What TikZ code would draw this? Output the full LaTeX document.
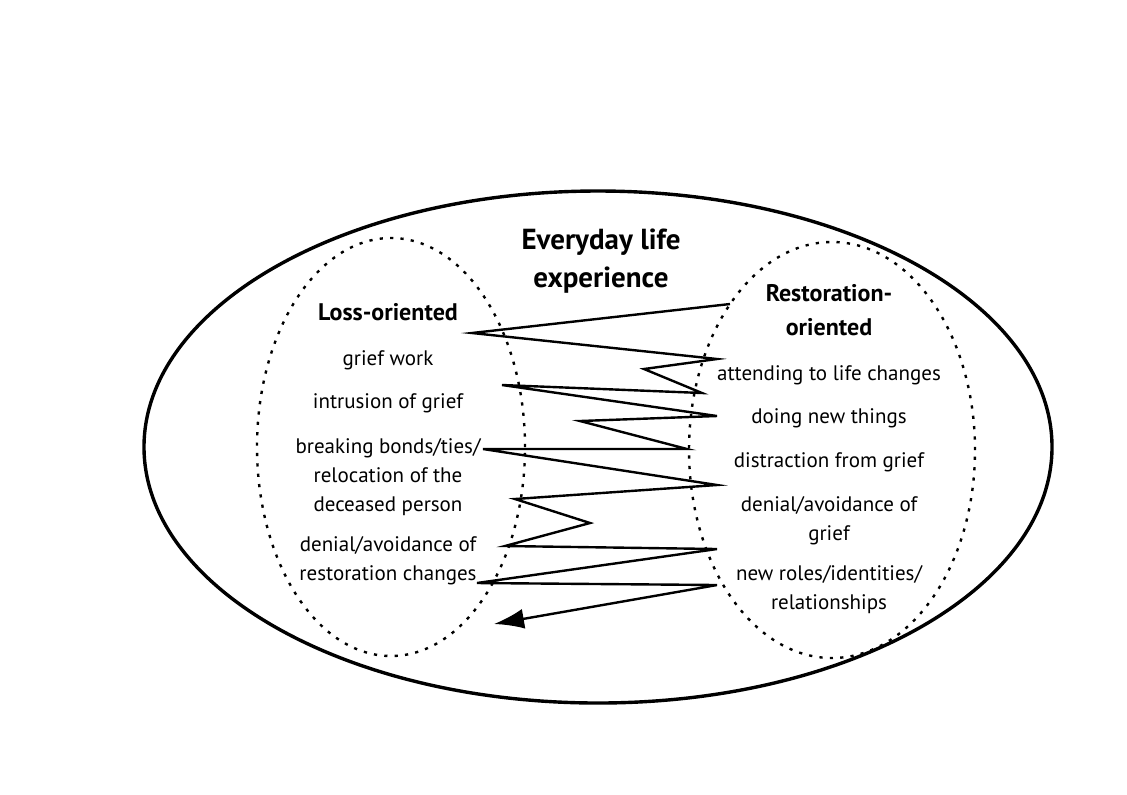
\documentclass[tikz,border=0pt]{standalone}
\usepackage{fontspec}
\setmainfont{PT Sans}
\usetikzlibrary{shapes.geometric,arrows.meta}

\tikzset{
    zone/.style={ellipse, draw, inner sep=0pt},
    dotzone/.style={zone, line width=1.2pt, dash pattern=on 1.6pt off 3.6pt},
    item/.style={align=center, inner sep=0pt, font=\fontsize{10.5}{14.5}\selectfont},
    side/.style={align=center, inner sep=0pt, font=\bfseries\fontsize{12}{17}\selectfont},
    zig/.style={line width=1.2pt, -{Latex[length=15pt,width=10pt]}}
}

\begin{document}
\begin{tikzpicture}[x=0.5pt, y=-0.5pt]
    \useasboundingbox (0,0) rectangle (1127,794);

    % The three areas
    \node[zone, line width=1.7pt, minimum width=454pt, minimum height=256pt] (life) at (598,447) {};
    \node[dotzone, minimum width=134pt, minimum height=209pt] (loss) at (391,447) {};
    \node[dotzone, minimum width=143pt, minimum height=208pt] (rest) at (832,450) {};

    % Title
    \node[align=center, inner sep=0pt, font=\bfseries\fontsize{14.5}{19}\selectfont] (title) at (601,261) {Everyday life\\experience};

    % Loss side
    \node[side] (losshead) at (388,312) {Loss-oriented};
    \node[item] (griefwork) at (388,360) {grief work};
    \node[item] (intrusion) at (388,403) {intrusion of grief};
    \node[item] (bonds) at (388,477) {breaking bonds/ties/\\relocation of the\\deceased person};
    \node[item] (denialR) at (388,561) {denial/avoidance of\\restoration changes};

    % Restoration side
    \node[side] (resthead) at (829,310) {Restoration-\\oriented};
    \node[item] (attending) at (829,375) {attending to life changes};
    \node[item] (newthings) at (829,418) {doing new things};
    \node[item] (distraction) at (829,462) {distraction from grief};
    \node[item] (denialG) at (829,521) {denial/avoidance of\\grief};
    \node[item] (roles) at (829,590) {new roles/identities/\\relationships};

    % Oscillation
    \foreach \i/\x/\y in {0/730/304, 1/472/333, 2/717/359, 3/644/369, 4/702/393,
        5/502/385, 6/717/416, 7/580/421, 8/687/449, 9/483/449, 10/717/485,
        11/515/499, 12/590/523, 13/505/546, 14/717/549, 15/477/583,
        16/717/585, 17/494/624}
        \coordinate (z\i) at (\x,\y);

    \draw[zig] (z0) \foreach \i in {1,...,17} {-- (z\i)};
\end{tikzpicture}
\end{document}
